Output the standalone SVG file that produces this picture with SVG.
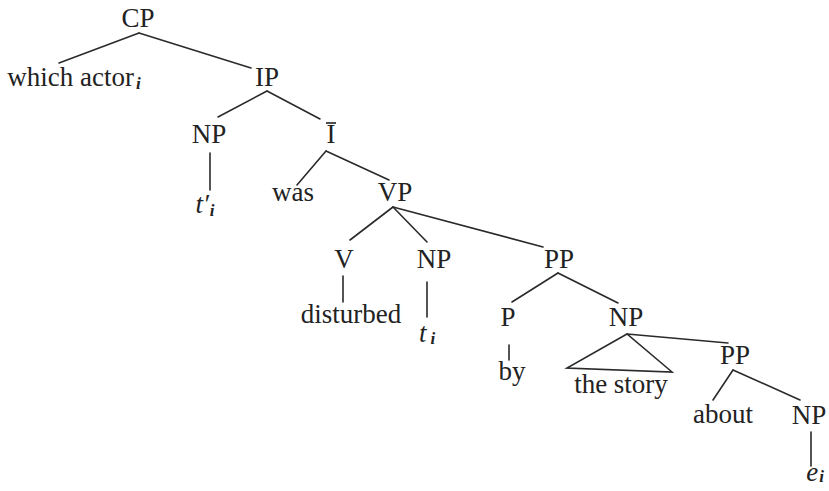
<svg xmlns="http://www.w3.org/2000/svg" width="829" height="491" viewBox="0 0 829 491">
  <style>
    .lbl { font-family: "Liberation Serif", "DejaVu Serif", serif; font-size: 27px; fill: #222; text-anchor: middle; }
    .it { font-style: italic; }
    .sub { font-size: 17px; font-style: italic; font-weight: bold; }
    .edge { stroke: #2a2a2a; stroke-width: 1.6; fill: none; stroke-linecap: round; }
  </style>
  <rect width="829" height="491" fill="#ffffff"/>

  <!-- branches of the tree -->
  <g id="connectors">
    <line class="edge" x1="139" y1="33" x2="59" y2="63"/>
    <line class="edge" x1="139" y1="33" x2="251" y2="68"/>
    <line class="edge" x1="267" y1="91" x2="218" y2="117"/>
    <line class="edge" x1="267" y1="91" x2="320" y2="119"/>
    <line class="edge" x1="210" y1="153" x2="210" y2="190"/>
    <line class="edge" x1="326" y1="151" x2="297" y2="185"/>
    <line class="edge" x1="326" y1="151" x2="389" y2="180"/>
    <line class="edge" x1="393" y1="207" x2="350" y2="240"/>
    <line class="edge" x1="393" y1="207" x2="427" y2="242"/>
    <line class="edge" x1="393" y1="207" x2="543" y2="247"/>
    <line class="edge" x1="343" y1="276" x2="343" y2="302"/>
    <line class="edge" x1="427" y1="282" x2="427" y2="317"/>
    <line class="edge" x1="558" y1="273" x2="512" y2="302"/>
    <line class="edge" x1="558" y1="273" x2="618" y2="303"/>
    <line class="edge" x1="509" y1="345" x2="509" y2="360"/>
    <polygon class="edge" points="627,334 567,368 672,372"/>
    <line class="edge" x1="627" y1="334" x2="728" y2="343"/>
    <line class="edge" x1="733" y1="370" x2="713" y2="400"/>
    <line class="edge" x1="733" y1="370" x2="800" y2="400"/>
    <line class="edge" x1="811" y1="432" x2="811" y2="466"/>
  </g>

  <g id="cp"><text class="lbl" x="138" y="27">CP</text></g>
  <g id="which-actor"><text class="lbl" x="74" y="86">which actor<tspan class="sub" dx="2" dy="3">i</tspan></text></g>
  <g id="ip"><text class="lbl" x="267" y="86">IP</text></g>
  <g id="np-1"><text class="lbl" x="209" y="143">NP</text></g>
  <g id="ibar">
    <text class="lbl" x="331" y="143">I</text>
    <line x1="326" y1="123" x2="336" y2="123" stroke="#222" stroke-width="1.6"/>
  </g>
  <g id="t-prime"><text class="lbl it" x="205" y="213">t′<tspan class="sub" dx="1" dy="3">i</tspan></text></g>
  <g id="was"><text class="lbl" x="293" y="201">was</text></g>
  <g id="vp"><text class="lbl" x="395" y="201">VP</text></g>
  <g id="v"><text class="lbl" x="344" y="268">V</text></g>
  <g id="np-2"><text class="lbl" x="434" y="268">NP</text></g>
  <g id="pp-1"><text class="lbl" x="559" y="268">PP</text></g>
  <g id="disturbed"><text class="lbl" x="351" y="323">disturbed</text></g>
  <g id="t-trace"><text class="lbl it" x="427" y="342">t<tspan class="sub" dx="4" dy="2">i</tspan></text></g>
  <g id="p"><text class="lbl" x="508" y="326">P</text></g>
  <g id="np-3"><text class="lbl" x="626" y="326">NP</text></g>
  <g id="by"><text class="lbl" x="512" y="380">by</text></g>
  <g id="the-story"><text class="lbl" x="621" y="393">the story</text></g>
  <g id="pp-2"><text class="lbl" x="735" y="364">PP</text></g>
  <g id="about"><text class="lbl" x="723" y="423">about</text></g>
  <g id="np-4"><text class="lbl" x="809" y="424">NP</text></g>
  <g id="e-trace"><text class="lbl it" x="815" y="481">e<tspan class="sub" dx="1" dy="1">i</tspan></text></g>
</svg>
